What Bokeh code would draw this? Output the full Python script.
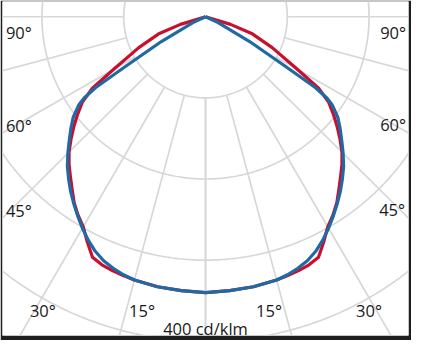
import numpy as np
from bokeh.plotting import figure
from bokeh.models import Label
from bokeh.embed import file_html
from bokeh.resources import INLINE

# ---- data (cd/klm vs angle from nadir, degrees) ----
red_angles = [0, 5, 10, 15, 17.5, 20, 22.5, 25, 27.5, 30, 32.5, 35, 37.5, 40, 42.5, 45,
              47.5, 50, 52.5, 55, 57.5, 60, 65, 70, 73, 76, 90]
red_cd = [340, 339, 338, 336, 334.5, 333, 331, 327, 313, 299, 290, 280, 268, 257, 247, 236,
          223, 210, 197, 184, 164, 130, 90, 60, 32, 0, 0]
blue_angles = [0, 5, 10, 15, 17.5, 20, 22.5, 25, 27.5, 30, 32.5, 35, 37.5, 40, 42.5, 45,
               47.5, 50, 52.5, 55, 56, 57, 58, 60.5, 65, 70, 90]
blue_cd = [340, 339, 338, 336, 333.5, 330, 325.5, 319, 310.5, 301, 291, 281, 271, 260.5, 250, 238,
           226, 215, 204, 189, 179, 160, 115, 62, 17, 0, 0]
ring_values = [100, 200, 300, 400]
spoke_angles = [0, 15, 30, 45, 60, 75, 90, 105, 120, 135, 150, 165, 180]
angle_label_texts = ["90°", "60°", "45°", "30°", "15°"]
scale_label_text = "400 cd/klm"

# ---- layout (reference pixel geometry) ----
PX = 0.85          # reference px per cd/klm
CX, CY = 213, 17   # reference px of the pole


def px_to_data(px, py):
    return (px - CX) / PX, (CY - py) / PX


label_px = {
    "90°": [(19, 34), (408, 34)],
    "60°": [(19, 131), (408, 130)],
    "45°": [(19, 220), (407, 219)],
    "30°": [(44, 325), (383, 325)],
    "15°": [(147, 325), (279, 325)],
}

x0, y1 = px_to_data(2, 1)
x1, y0 = px_to_data(424, 351)

p = figure(width=411, height=340, x_range=(x0, x1), y_range=(y0, y1),
           output_backend="svg", toolbar_location=None,
           x_axis_type=None, y_axis_type=None,
           min_border_left=2, min_border_right=3, min_border_top=1, min_border_bottom=5,
           border_fill_color="#1e1e1e", background_fill_color="white",
           outline_line_color=None)

grid_color = "#d7d7d7"
t = np.linspace(0, 2 * np.pi, 721)
p.multi_line(xs=[list(r * np.sin(t)) for r in ring_values],
             ys=[list(-r * np.cos(t)) for r in ring_values],
             line_color=grid_color, line_width=1.7)

sx0, sy0, sx1, sy1 = [], [], [], []
for a in spoke_angles:
    for s in (1, -1):
        th = np.radians(a) * s
        sx0.append(ring_values[0] * np.sin(th))
        sy0.append(-ring_values[0] * np.cos(th))
        sx1.append(700 * np.sin(th))
        sy1.append(-700 * np.cos(th))
p.segment(x0=sx0, y0=sy0, x1=sx1, y1=sy1, line_color=grid_color, line_width=1.7)


def polar_path(angles, vals):
    a = np.radians(np.array(angles, dtype=float))
    r = np.array(vals, dtype=float)
    xl = -r[::-1] * np.sin(a[::-1])
    yl = -r[::-1] * np.cos(a[::-1])
    xr = r[1:] * np.sin(a[1:])
    yr = -r[1:] * np.cos(a[1:])
    return np.concatenate([xl, xr]), np.concatenate([yl, yr])


rx, ry = polar_path(red_angles, red_cd)
bx, by = polar_path(blue_angles, blue_cd)
p.line(rx, ry, line_color="#c8102e", line_width=3.2, line_join="round")
p.line(bx, by, line_color="#1f6aa5", line_width=3.2, line_join="round")

font = "Open Sans"
for txt in angle_label_texts:
    for (lx, ly) in label_px[txt]:
        dx, dy = px_to_data(lx, ly)
        p.add_layout(Label(x=dx, y=dy, text=txt, text_font=font, text_font_size="16.5px",
                           text_align="center", text_baseline="middle", text_color="#1a1a1a"))

sx, sy = px_to_data(213, 344)
p.add_layout(Label(x=sx, y=sy, text=scale_label_text, text_font=font, text_font_size="16.5px",
                   text_align="center", text_baseline="middle", text_color="#1a1a1a"))

open("out.html", "w").write(file_html(p, INLINE))
